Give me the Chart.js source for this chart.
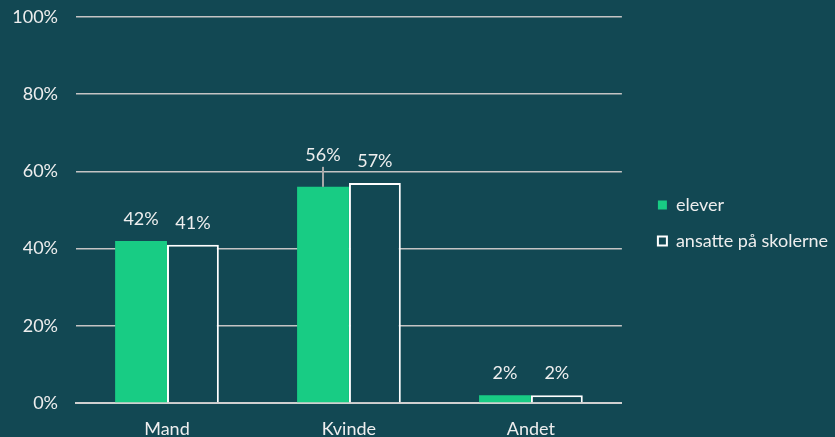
<!DOCTYPE html>
<html>
<head>
<meta charset="utf-8">
<script src="https://cdn.jsdelivr.net/npm/chart.js@4"></script>
<style>
  html, body { margin: 0; padding: 0; background: #124853; }
  #wrap { width: 835px; height: 437px; position: relative; }
</style>
</head>
<body>
<div id="wrap"><canvas id="c"></canvas></div>
<script>
const categories = ['Mand', 'Kvinde', 'Andet'];
const seriesNames = ['elever', 'ansatte på skolerne'];
const elever = [42, 56, 2];
const ansatte = [41, 57, 2];
const yTicks = [0, 20, 40, 60, 80, 100];

const BG = '#124853';
const GREEN = '#18CC84';
const TEXT = '#eeeeee';
const FONT = 'Lato, "Noto Sans", sans-serif';
const FS = 18;

const LEGEND_EXTRA = 15;
const LEGEND_SHIFT = 18;
const LEGEND_LIFT = 4;

const legendShift = {
  id: 'legendShift',
  beforeLayout(chart) {
    const lg = chart.legend;
    if (lg && !lg._patched) {
      const orig = lg.fit.bind(lg);
      lg.fit = function () { orig(); this.width += LEGEND_EXTRA; };
      lg._patched = true;
    }
  },
  afterLayout(chart) {
    const lg = chart.legend;
    if (lg) {
      lg.left += LEGEND_SHIFT; lg.right += LEGEND_SHIFT;
      lg.top -= LEGEND_LIFT; lg.bottom -= LEGEND_LIFT;
    }
  }
};

const valueLabels = {
  id: 'valueLabels',
  afterDatasetsDraw(chart, args, opts) {
    const ctx = chart.ctx;
    ctx.save();
    ctx.font = FS + 'px ' + FONT;
    ctx.fillStyle = TEXT;
    ctx.textAlign = 'center';
    ctx.textBaseline = 'middle';
    chart.data.datasets.forEach((ds, di) => {
      const meta = chart.getDatasetMeta(di);
      meta.data.forEach((el, i) => {
        let lift = 0;
        (opts.leaders || []).forEach(l => { if (l.dataset === di && l.index === i) lift = l.lift; });
        const y = el.y - opts.offset - lift;
        if (lift) {
          ctx.strokeStyle = '#a9a9a9';
          ctx.lineWidth = 2;
          ctx.beginPath();
          ctx.moveTo(el.x, y + 12);
          ctx.lineTo(el.x, el.y);
          ctx.stroke();
        }
        ctx.fillText(Math.round(ds.data[i]) + '%', el.x, y);
      });
    });
    ctx.restore();
  }
};

new Chart(document.getElementById('c'), {
  type: 'bar',
  data: {
    labels: categories,
    datasets: [
      { label: seriesNames[0], data: elever, backgroundColor: GREEN, borderWidth: 0 },
      { label: seriesNames[1], data: ansatte, backgroundColor: BG, borderColor: '#ffffff', borderWidth: 2 }
    ]
  },
  options: {
    responsive: true,
    maintainAspectRatio: false,
    animation: false,
    categoryPercentage: 0.57,
    barPercentage: 1,
    layout: { padding: { top: 17, left: 0, right: 0, bottom: 0 } },
    plugins: {
      tooltip: { enabled: false },
      legend: {
        position: 'right',
        labels: {
          color: TEXT,
          font: { family: FONT, size: FS },
          boxWidth: 9,
          boxHeight: 9,
          padding: 18
        }
      },
      valueLabels: { offset: 22, leaders: [{ dataset: 0, index: 1, lift: 10 }] }
    },
    scales: {
      x: {
        grid: { display: false, drawTicks: false },
        border: { display: true, color: '#d0d0d0', width: 2 },
        ticks: { color: TEXT, font: { family: FONT, size: FS }, padding: 15 },
        afterFit(scale) { scale.height = 34; }
      },
      y: {
        min: 0, max: 100,
        afterBuildTicks(scale) { scale.ticks = yTicks.map(v => ({ value: v })); },
        grid: { color: '#c4c4c4', lineWidth: 1.5, drawTicks: false },
        border: { display: false },
        ticks: {
          color: TEXT, font: { family: FONT, size: FS }, padding: 18,
          callback: v => v + '%'
        },
        afterFit(scale) { scale.width = 76; scale.paddingTop = 0; }
      }
    }
  },
  plugins: [legendShift, valueLabels]
});
</script>
</body>
</html>
